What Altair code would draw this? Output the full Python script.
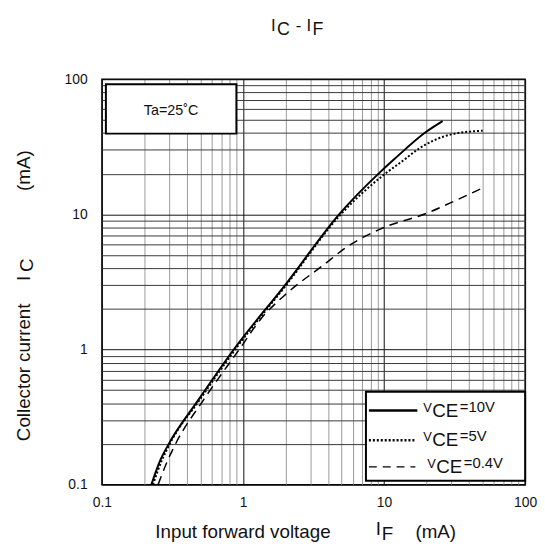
import altair as alt
import pandas as pd

# ---------------- data ----------------
if_10v = [0.224, 0.258, 0.295, 0.48, 0.86, 2.04, 4.8, 9.5, 12, 20, 26]
ic_10v = [0.1, 0.15, 0.197, 0.42, 1.0, 3.1, 10, 20.8, 26.0, 41, 49]

if_5v = [0.23, 0.265, 0.30, 0.49, 0.88, 2.05, 4.85, 10, 14, 17.6, 23, 30, 50]
ic_5v = [0.1, 0.15, 0.197, 0.42, 1.0, 3.05, 9.8, 19.7, 25.5, 30.6, 35.6, 39.1, 41.6]

if_04v = [0.25, 0.29, 0.33, 0.53, 0.94, 1.33, 2.04, 3.7, 5.4, 10, 19.6, 31.8, 50]
ic_04v = [0.1, 0.148, 0.197, 0.43, 1.0, 1.67, 2.6, 4.2, 5.7, 8.0, 10.1, 12.6, 15.7]

decades = [0.1, 1, 10]
grid_values = [round(d * m, 4) for d in decades for m in range(1, 10)] + [100]
decade_labels = ["0.1", "1", "10", "100"]

FONT = "Liberation Sans"

label_expr = ("datum.value==0.1?'0.1':datum.value==1?'1':"
              "datum.value==10?'10':datum.value==100?'100':''")
major_test = "datum.value==0.1||datum.value==1||datum.value==10||datum.value==100"

x_axis = alt.Axis(values=grid_values, labelExpr=label_expr, title=None, ticks=False,
                  domain=False, labelFont=FONT, labelFontSize=14, labelColor="#111",
                  labelPadding=11, labelFlush=False, labelOverlap=False,
                  gridColor={"condition": {"test": major_test, "value": "#111"}, "value": "#9a9a9a"},
                  gridOpacity=1, gridWidth=1)
y_axis = alt.Axis(values=grid_values, labelExpr=label_expr, title=None, ticks=False,
                  domain=False, labelFont=FONT, labelFontSize=14, labelColor="#111",
                  labelPadding=15, labelFlush=False, labelOverlap=False,
                  gridColor={"condition": {"test": major_test, "value": "#111"}, "value": "#3a3a3a"},
                  gridOpacity=1, gridWidth=1)

xs = alt.Scale(type="log", domain=[0.1, 100], nice=False)
ys = alt.Scale(type="log", domain=[0.1, 100], nice=False)


def curve(xv, yv, dash, width):
    df = pd.DataFrame({"IF": xv, "IC": yv})
    mk = {"color": "black", "strokeWidth": width, "clip": True, "interpolate": "monotone"}
    if dash:
        mk["strokeDash"] = dash
    return alt.Chart(df).mark_line(**mk).encode(
        x=alt.X("IF:Q", scale=xs, axis=x_axis),
        y=alt.Y("IC:Q", scale=ys, axis=y_axis),
    )


one = pd.DataFrame({"k": [0]})


def txt(s, x, y, size=13, angle=0, align="left", baseline="alphabetic"):
    kw = dict(font=FONT, fontSize=size, color="#111", align=align, baseline=baseline)
    if angle:
        kw["angle"] = angle
    return alt.Chart(one).mark_text(**kw).encode(
        x=alt.value(x), y=alt.value(y), text=alt.value(s))


def box(x1, y1, x2, y2, sw=2):
    return alt.Chart(one).mark_rect(fill="white", stroke="black", strokeWidth=sw).encode(
        x=alt.value(x1), x2=alt.value(x2), y=alt.value(y1), y2=alt.value(y2))


def seg(x1, x2, y, dash, sw):
    kw = dict(color="black", strokeWidth=sw)
    if dash:
        kw["strokeDash"] = dash
    return alt.Chart(one).mark_rule(**kw).encode(
        x=alt.value(x1), x2=alt.value(x2), y=alt.value(y))


layers = [
    curve(if_10v, ic_10v, None, 2),
    curve(if_5v, ic_5v, [2, 2], 2),
    curve(if_04v, ic_04v, [9, 6], 1.5),
    # Ta box
    box(4, 5, 136, 55),
    txt("Ta=25˚C", 70, 36, size=14.5, align="center"),
    # legend box
    box(267, 316, 428, 406),
    seg(270, 319, 335, None, 2.5),
    seg(270, 317, 365, [2, 2], 2.5),
    seg(270, 317, 392, [8, 6], 1.3),
    txt("V", 325, 337, size=13), txt("CE", 334, 342, size=19), txt("=10V", 362, 337, size=15),
    txt("V", 325, 366, size=13), txt("CE", 334, 371, size=19), txt("=5V", 362, 366, size=15),
    txt("V", 329, 393, size=13), txt("CE", 338, 398, size=19), txt("=0.4V", 366, 393, size=15),
    # chart title
    txt("I", 171, -49, size=17), txt("C", 177, -45, size=18), txt("-", 196, -49, size=17),
    txt("I", 207, -49, size=17), txt("F", 213, -45, size=18),
    # x title
    txt("Input forward voltage", 54, 464, size=19),
    txt("I", 277, 461, size=19), txt("F", 283, 466, size=19), txt("(mA)", 317, 464, size=19),
    # y title (rotated)
    txt("Collector current", -73, 366, size=19, angle=270),
    txt("I", -73, 204, size=19, angle=270), txt("C", -70, 195, size=19, angle=270),
    txt("(mA)", -73, 113, size=19, angle=270),
]

chart = alt.layer(*layers).properties(
    width=428, height=410,
    autosize=alt.AutoSizeParams(type="none"),
    padding={"left": 95, "top": 69, "right": 12, "bottom": 59},
).configure_view(stroke="black", strokeWidth=1.5)

chart.save("out.html", embed_options={"renderer": "svg", "actions": False})
